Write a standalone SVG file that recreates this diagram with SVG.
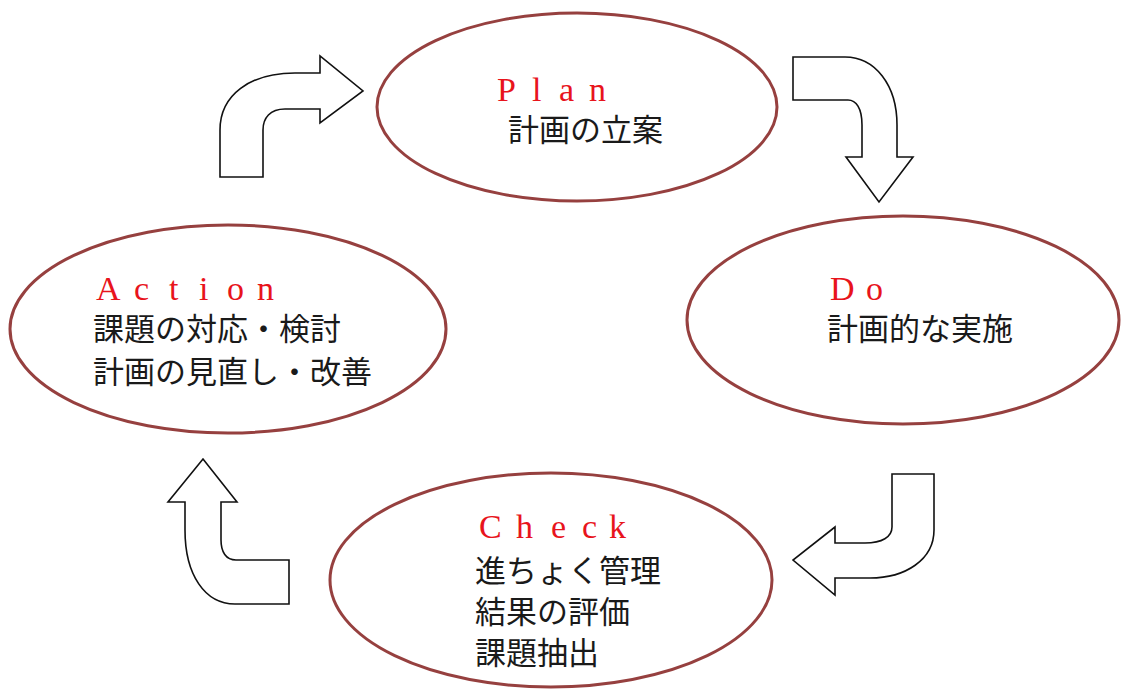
<svg xmlns="http://www.w3.org/2000/svg" width="1123" height="689" viewBox="0 0 1123 689">
<style>
.ell{fill:#fff;stroke:#96403f;stroke-width:3}
.arr{fill:#fff;stroke:#111;stroke-width:1.6;stroke-linejoin:miter}
.en{font-family:"Liberation Serif","Noto Sans CJK JP",serif;font-size:34px;fill:#e8141c}
.jp{font-family:"Noto Sans CJK JP",sans-serif;font-size:31px;fill:#1a1a1a}
</style>
<rect width="1123" height="689" fill="#fff"/>
<g id="connectors">
<path class="arr" d="M220,177 L220,130 C220,95 250,73 295,73 L320,73 L320,56 L363,91 L320,123 L320,109 L285,109 C270,109 263,118 263,130 L263,177 Z"/>
<path class="arr" d="M793,57 L845,57 C875,57 897,85 897,125 L897,157 L913,157 L879,202 L846,157 L862,157 L862,125 C862,108 856,100 848,100 L793,100 Z"/>
<path class="arr" d="M892,474 L934,474 L934,530 C934,560 905,578 870,578 L835,578 L835,595 L793,560 L835,527 L835,543 L865,543 C882,543 892,537 892,527 Z"/>
<path class="arr" d="M203,459 L237,502 L221,502 L221,540 C221,552 226,560 236,560 L289,560 L289,604 L235,604 C205,604 185,575 185,530 L185,502 L168,502 Z"/>
</g>
<g id="plan">
<ellipse class="ell" cx="577" cy="107" rx="200" ry="94"/>
<text class="en" x="497 532 559 589" y="101">Plan</text>
<text class="jp" x="508" y="141">計画の立案</text>
</g>
<g id="do">
<ellipse class="ell" cx="903" cy="320" rx="216" ry="104"/>
<text class="en" x="830 866" y="300">Do</text>
<text class="jp" x="827" y="340">計画的な実施</text>
</g>
<g id="check">
<ellipse class="ell" cx="551" cy="580" rx="221" ry="107"/>
<text class="en" x="479 516 551 582 609" y="538">Check</text>
<text class="jp" x="475" y="582">進ちょく管理</text>
<text class="jp" x="475" y="623">結果の評価</text>
<text class="jp" x="475" y="664">課題抽出</text>
</g>
<g id="action">
<ellipse class="ell" cx="228" cy="329" rx="218" ry="104"/>
<text class="en" x="96 134 169 199 227 257" y="300">Action</text>
<text class="jp" x="93" y="340">課題の対応・検討</text>
<text class="jp" x="93" y="383">計画の見直し・改善</text>
</g>
</svg>
